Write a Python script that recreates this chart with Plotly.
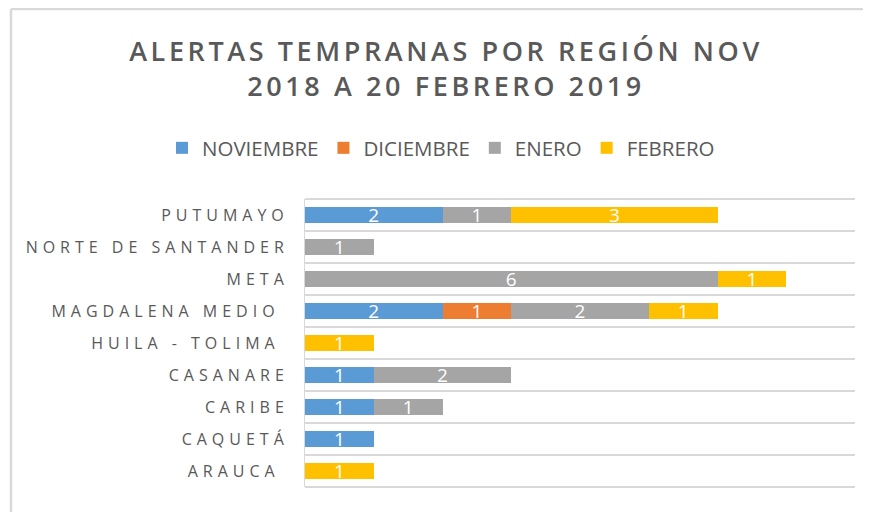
import plotly.graph_objects as go

regions = ["PUTUMAYO", "NORTE DE SANTANDER", "META", "MAGDALENA MEDIO ", "HUILA - TOLIMA ",
           "CASANARE", "CARIBE", "CAQUETÁ", "ARAUCA "]
noviembre = [2, None, None, 2, None, 1, 1, 1, None]
diciembre = [None, None, None, 1, None, None, None, None, None]
enero = [1, 1, 6, 2, None, 2, 1, None, None]
febrero = [3, None, 1, 1, 1, None, None, None, 1]

series = [("NOVIEMBRE", noviembre, "#5B9BD5"),
          ("DICIEMBRE", diciembre, "#ED7D31"),
          ("ENERO", enero, "#A5A5A5"),
          ("FEBRERO", febrero, "#FFC000")]

GRAY = "#595959"
GRID = "#D9D9D9"
FONT = "Open Sans"

fig = go.Figure()
for name, vals, color in series:
    fig.add_trace(go.Bar(
        y=regions, x=vals, name=name, orientation="h",
        marker=dict(color=color, line=dict(width=0)),
        text=[str(v) if v else "" for v in vals],
        textposition="inside", insidetextanchor="middle",
        textfont=dict(color="white", size=19, family=FONT),
        constraintext="none", textangle=0,
    ))

# the page adds an 8px body margin; positions are in figure coordinates
W, H = 863, 504
L, R, T, B = 297, 16, 191, 25
pw = W - L - R
ph = H - T - B

def spaced(s, px):
    return "<span style='letter-spacing:%spx'>%s</span>" % (px, s.replace(" ", "\u00a0"))

title_text = spaced("ALERTAS TEMPRANAS POR REGIÓN NOV", 3.6) + "<br>" + spaced("2018 A 20 FEBRERO 2019", 3.6)

fig.update_layout(
    width=W, height=H,
    margin=dict(l=L, r=R, t=T, b=B),
    barmode="stack", bargap=0.47,
    plot_bgcolor="white", paper_bgcolor="white",
    title=dict(text=title_text,
               x=438 / W, xanchor="center", y=1 - 53 / H, yanchor="middle",
               font=dict(family=FONT, size=27, color=GRAY, weight=600)),
    legend=dict(orientation="h", x=(154 - L) / pw, xanchor="left",
                y=(H - B - 140) / ph, yanchor="middle",
                font=dict(family=FONT, size=20.5, color=GRAY),
                traceorder="normal", itemwidth=30),
    showlegend=True,
    font=dict(family=FONT, color=GRAY),
)
fig.update_xaxes(range=[0, 8], showticklabels=False, showgrid=False, zeroline=False,
                 showline=False, fixedrange=True)
fig.update_yaxes(categoryorder="array", categoryarray=regions[::-1], autorange=False,
                 range=[-0.5, 8.5],
                 tickmode="array", tickvals=regions, ticktext=[spaced(r, 5) for r in regions],
                 tickson="boundaries", showgrid=True, gridcolor=GRID, gridwidth=2,
                 showline=True, linecolor=GRID, linewidth=1, ticks="",
                 tickfont=dict(family=FONT, size=16, color=GRAY),
                 ticklabelstandoff=12)
# top and bottom boundary lines of the plot area
for yv in (0, 1):
    fig.add_shape(type="line", xref="paper", yref="paper", x0=0, x1=1, y0=yv, y1=yv,
                  line=dict(color=GRID, width=2), layer="below")
# outer chart border (top and left)
fig.add_shape(type="line", xref="paper", yref="paper",
              x0=(3 - L) / pw, x1=(900 - L) / pw, y0=(H - B - 1) / ph, y1=(H - B - 1) / ph,
              line=dict(color=GRID, width=2.5))
fig.add_shape(type="line", xref="paper", yref="paper",
              x0=(3 - L) / pw, x1=(3 - L) / pw, y0=(H - B - 560) / ph, y1=(H - B - 1) / ph,
              line=dict(color=GRID, width=2.5))
fig.write_html("out.html")
